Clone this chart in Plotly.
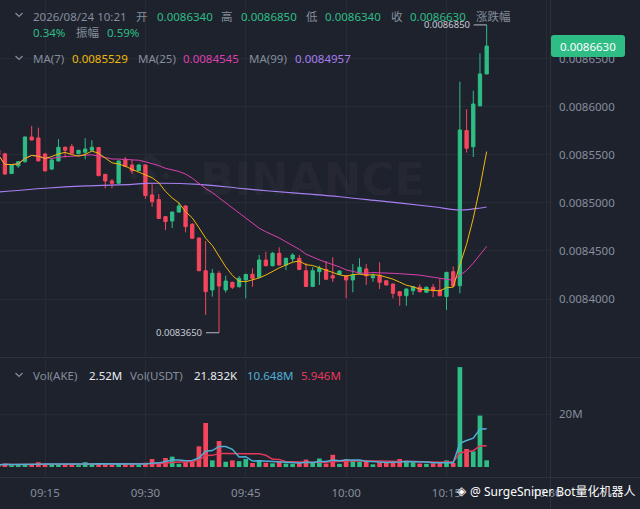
import plotly.graph_objects as go
import pandas as pd

# ---------------- data ----------------
start_time = "2026-08-24 09:08"
opens = [0.0085550, 0.0085510, 0.0085305, 0.0085385, 0.0085428, 0.0085685, 0.0085675, 0.0085508, 0.0085352, 0.0085436,
         0.0085578, 0.0085584, 0.0085511, 0.0085526, 0.0085547, 0.0085575, 0.0085297, 0.0085228, 0.0085204, 0.0085453,
         0.0085394, 0.0085335, 0.0085394, 0.0085082, 0.0085035, 0.0084857, 0.0084812, 0.0084905, 0.0084968, 0.0084778,
         0.0084635, 0.0084295, 0.0084095, 0.0084268, 0.0084095, 0.0084175, 0.0084129, 0.0084199, 0.0084258, 0.0084227,
         0.0084406, 0.0084347, 0.0084476, 0.0084354, 0.0084417, 0.0084424, 0.0084295, 0.0084131, 0.0084285, 0.0084308,
         0.0084243, 0.0084256, 0.0084243, 0.0084199, 0.0084268, 0.0084313, 0.0084222, 0.0084243, 0.0084191, 0.0084157,
         0.0084077, 0.0084035, 0.0084087, 0.0084123, 0.0084071, 0.0084123, 0.0084095, 0.0084027, 0.0084285, 0.0084139,
         0.0085753, 0.0085584, 0.0086010, 0.0086340]
highs = [0.0085570, 0.0085520, 0.0085400, 0.0085430, 0.0085690, 0.0085800, 0.0085782, 0.0085520, 0.0085467, 0.0085664,
         0.0085585, 0.0085612, 0.0085550, 0.0085672, 0.0085651, 0.0085580, 0.0085300, 0.0085248, 0.0085440, 0.0085477,
         0.0085446, 0.0085400, 0.0085400, 0.0085196, 0.0085093, 0.0084860, 0.0084910, 0.0085006, 0.0084975, 0.0084790,
         0.0084640, 0.0084604, 0.0084313, 0.0084290, 0.0084243, 0.0084180, 0.0084240, 0.0084265, 0.0084320, 0.0084458,
         0.0084493, 0.0084490, 0.0084538, 0.0084430, 0.0084476, 0.0084458, 0.0084375, 0.0084334, 0.0084347, 0.0084396,
         0.0084435, 0.0084300, 0.0084250, 0.0084365, 0.0084424, 0.0084365, 0.0084268, 0.0084383, 0.0084195, 0.0084160,
         0.0084080, 0.0084110, 0.0084135, 0.0084154, 0.0084130, 0.0084157, 0.0084209, 0.0084285, 0.0084339, 0.0086260,
         0.0085973, 0.0086166, 0.0086555, 0.0086850]
lows = [0.0085480, 0.0085290, 0.0085300, 0.0085365, 0.0085420, 0.0085650, 0.0085436, 0.0085330, 0.0085342, 0.0085430,
        0.0085470, 0.0085510, 0.0085505, 0.0085453, 0.0085540, 0.0085280, 0.0085152, 0.0085152, 0.0085200, 0.0085370,
        0.0085300, 0.0085330, 0.0085041, 0.0084960, 0.0084835, 0.0084718, 0.0084739, 0.0084900, 0.0084694, 0.0084630,
        0.0084290, 0.0083835, 0.0084025, 0.0083650, 0.0084067, 0.0084105, 0.0084120, 0.0084008, 0.0084129, 0.0084220,
        0.0084340, 0.0084340, 0.0084350, 0.0084302, 0.0084383, 0.0084300, 0.0084125, 0.0084125, 0.0084147, 0.0084200,
        0.0084178, 0.0084250, 0.0084008, 0.0084071, 0.0084260, 0.0084147, 0.0084181, 0.0084105, 0.0084140, 0.0084008,
        0.0083931, 0.0083931, 0.0084043, 0.0084070, 0.0084065, 0.0084019, 0.0084030, 0.0083887, 0.0084130, 0.0084060,
        0.0085524, 0.0085477, 0.0086000, 0.0086340]
closes = [0.0085500, 0.0085300, 0.0085395, 0.0085428, 0.0085685, 0.0085654, 0.0085436, 0.0085332, 0.0085446, 0.0085578,
          0.0085547, 0.0085516, 0.0085547, 0.0085560, 0.0085578, 0.0085283, 0.0085228, 0.0085204, 0.0085436, 0.0085378,
          0.0085332, 0.0085394, 0.0085077, 0.0085012, 0.0084838, 0.0084805, 0.0084905, 0.0084968, 0.0084753, 0.0084632,
          0.0084295, 0.0084077, 0.0084268, 0.0084136, 0.0084188, 0.0084123, 0.0084216, 0.0084256, 0.0084216, 0.0084406,
          0.0084347, 0.0084476, 0.0084354, 0.0084424, 0.0084458, 0.0084308, 0.0084131, 0.0084295, 0.0084320, 0.0084206,
          0.0084219, 0.0084292, 0.0084199, 0.0084250, 0.0084331, 0.0084243, 0.0084243, 0.0084175, 0.0084147, 0.0084060,
          0.0084035, 0.0084105, 0.0084129, 0.0084077, 0.0084123, 0.0084087, 0.0084035, 0.0084277, 0.0084136, 0.0085758,
          0.0085568, 0.0086028, 0.0086340, 0.0086630]
volumes_m = [0.8, 1.2, 0.7, 0.8, 1.0, 1.0, 1.8, 1.1, 0.8, 1.0,
             0.9, 1.0, 0.7, 1.8, 1.1, 1.3, 1.0, 0.8, 1.2, 1.0,
             0.9, 0.8, 1.6, 3.0, 1.5, 3.4, 3.9, 1.2, 1.8, 2.2,
             7.8, 16.6, 2.5, 9.8, 2.0, 2.5, 2.2, 3.0, 1.5, 2.5,
             1.6, 1.4, 2.2, 1.3, 1.2, 1.5, 2.8, 1.5, 3.2, 1.3,
             4.6, 1.2, 3.0, 2.6, 2.0, 2.2, 1.0, 1.8, 1.6, 2.0,
             3.0, 2.2, 1.8, 1.3, 1.2, 1.4, 1.5, 2.5, 1.5, 37.7,
             6.8, 5.9, 19.4, 2.52]
# MA(99) at some candle indices
ma99_idx = [0, 7, 13, 20, 22, 30, 37, 45, 51, 57, 65, 69, 71, 73]
ma99_vals = [0.0085113, 0.0085152, 0.0085176, 0.0085193, 0.0085202, 0.0085193, 0.0085145, 0.0085098,
             0.0085064, 0.0085020, 0.0084960, 0.0084926, 0.0084937, 0.0084957]
# legend values as shown in the picture
ma_legend = ["0.0085529", "0.0084545", "0.0084957"]
vol_legend = ["2.52M", "21.832K", "10.648M", "5.946M"]
header_pct = ["0.34%", "0.59%"]

x_ticks = ["2026-08-24 09:15", "2026-08-24 09:30", "2026-08-24 09:45", "2026-08-24 10:00",
           "2026-08-24 10:15", "2026-08-24 10:30"]
x_ticktext = ["09:15", "09:30", "09:45", "10:00", "10:15", "10:30"]
price_ticks = [0.00840, 0.00845, 0.00850, 0.00855, 0.00860, 0.00865]
vol_ticks = [20e6]
vol_ticktext = ["20M"]

# ---------------- styling ----------------
BG = "#1e222d"
GRID = "#272b36"
SEP = "#2e323d"
GREEN = "#2ebd85"
RED = "#f6465d"
GRAY = "#848e9c"
C_MA7 = "#f0b90b"
C_MA25 = "#dc3fae"
C_MA99 = "#a67ef0"
C_VMA5 = "#4fb0d6"
C_VMA10 = "#e5395a"
FONT = "Noto Sans, Noto Sans CJK SC, sans-serif"

W, H = 640, 509
PW, PH = 550, 477  # plot area size in pixels (margins l=0,t=0)

times = pd.date_range(start_time, periods=len(closes), freq="1min")
df = pd.DataFrame({"t": times, "o": opens, "h": highs, "l": lows, "c": closes,
                   "v": [v * 1e6 for v in volumes_m]})
df["ma7"] = df["c"].rolling(7, min_periods=1).mean()
df["ma25"] = df["c"].rolling(25, min_periods=1).mean()
df["vma5"] = df["v"].rolling(5, min_periods=1).mean()
df["vma10"] = df["v"].rolling(10, min_periods=1).mean()
vcolors = [GREEN if c >= o else RED for o, c in zip(df["o"], df["c"])]

def px(x):
    return x / PW

def py(y):
    return 1 - y / PH

fig = go.Figure()
fig.add_trace(go.Candlestick(
    x=df["t"], open=df["o"], high=df["h"], low=df["l"], close=df["c"],
    increasing=dict(line=dict(color=GREEN, width=1), fillcolor=GREEN),
    decreasing=dict(line=dict(color=RED, width=1), fillcolor=RED),
    whiskerwidth=0, xaxis="x", yaxis="y", showlegend=False, hoverinfo="skip"))
fig.add_trace(go.Scatter(x=df["t"].iloc[ma99_idx], y=ma99_vals, mode="lines",
                         line=dict(color=C_MA99, width=1.2, shape="spline"),
                         xaxis="x", yaxis="y", showlegend=False, hoverinfo="skip"))
fig.add_trace(go.Scatter(x=df["t"], y=df["ma25"], mode="lines", line=dict(color=C_MA25, width=1),
                         xaxis="x", yaxis="y", showlegend=False, hoverinfo="skip"))
fig.add_trace(go.Scatter(x=df["t"], y=df["ma7"], mode="lines", line=dict(color=C_MA7, width=1),
                         xaxis="x", yaxis="y", showlegend=False, hoverinfo="skip"))
fig.add_trace(go.Bar(x=df["t"], y=df["v"], marker=dict(color=vcolors, line=dict(width=0)),
                     xaxis="x2", yaxis="y2", showlegend=False, hoverinfo="skip"))
fig.add_trace(go.Scatter(x=df["t"], y=df["vma10"], mode="lines", line=dict(color=C_VMA10, width=1.5),
                         xaxis="x2", yaxis="y2", showlegend=False, hoverinfo="skip"))
fig.add_trace(go.Scatter(x=df["t"], y=df["vma5"], mode="lines", line=dict(color=C_VMA5, width=1.5),
                         xaxis="x2", yaxis="y2", showlegend=False, hoverinfo="skip"))

xrange = ["2026-08-24 09:08:16", "2026-08-24 10:30:28"]
main_top, main_bot = 0, 357
vol_top, vol_bot = 360, 477

fig.update_layout(
    width=W, height=H, paper_bgcolor=BG, plot_bgcolor=BG,
    margin=dict(l=0, r=W - PW, t=0, b=H - PH, autoexpand=False),
    font=dict(family=FONT, size=11.5, color=GRAY),
    bargap=0.3, hovermode=False,
    xaxis=dict(domain=[0, 1], anchor="y", range=xrange, type="date", showticklabels=False,
               showgrid=True, gridcolor=GRID, gridwidth=1, tickvals=x_ticks, zeroline=False,
               rangeslider=dict(visible=False), fixedrange=True),
    yaxis=dict(domain=[py(main_bot), py(main_top)], anchor="x", side="right",
               range=[0.0083398, 0.0087109], tickvals=price_ticks, tickformat=".7f",
               showgrid=True, gridcolor=GRID, zeroline=False, ticks="", ticklabelstandoff=8,
               tickfont=dict(size=11.5, color=GRAY)),
    xaxis2=dict(domain=[0, 1], anchor="y2", matches="x", type="date", tickvals=x_ticks,
                ticktext=x_ticktext, showgrid=True, gridcolor=GRID, zeroline=False, ticks="",
                ticklabelstandoff=7, tickfont=dict(size=11.5, color=GRAY),
                rangeslider=dict(visible=False)),
    yaxis2=dict(domain=[py(vol_bot), py(vol_top)], anchor="x2", side="right",
                range=[-3.774e6, 40.38e6], tickvals=vol_ticks, ticktext=vol_ticktext,
                showgrid=True, gridcolor=GRID, zeroline=False, ticks="", ticklabelstandoff=8,
                tickfont=dict(size=11.5, color=GRAY)),
)

shapes = []
annotations = []

# separators
for yy in (357.5, 477.5):
    shapes.append(dict(type="line", xref="paper", yref="paper", x0=0, x1=px(W), y0=py(yy), y1=py(yy),
                       line=dict(color=SEP, width=1), layer="above"))
shapes.append(dict(type="line", xref="paper", yref="paper", x0=px(550.5), x1=px(550.5), y0=py(H), y1=py(0),
                   line=dict(color=SEP, width=1), layer="above"))

# watermark logo (faint)
cx, cy = 150, 176
def poly(points):
    return "M " + " L ".join(f"{px(a):.5f},{py(b):.5f}" for a, b in points) + " Z"
wm = "rgba(255,255,255,0.035)"
for pts in [
    [(cx, cy - 7), (cx + 7, cy), (cx, cy + 7), (cx - 7, cy)],
    [(cx - 16, cy - 4), (cx - 12, cy), (cx - 16, cy + 4), (cx - 20, cy)],
    [(cx + 16, cy - 4), (cx + 20, cy), (cx + 16, cy + 4), (cx + 12, cy)],
    [(cx, cy - 24), (cx + 12, cy - 12), (cx + 8, cy - 8), (cx, cy - 16), (cx - 8, cy - 8), (cx - 12, cy - 12)],
    [(cx, cy + 24), (cx + 12, cy + 12), (cx + 8, cy + 8), (cx, cy + 16), (cx - 8, cy + 8), (cx - 12, cy + 12)],
]:
    shapes.append(dict(type="path", xref="paper", yref="paper", path=poly(pts), fillcolor=wm,
                       line=dict(width=0), layer="below"))
annotations.append(dict(xref="paper", yref="paper", x=px(312), y=py(179), text="<b>BINANCE</b>",
                        showarrow=False, xanchor="center", yanchor="middle",
                        font=dict(family="DejaVu Sans", size=45, color=wm)))

# chevrons
for yc in (15, 58, 375):
    shapes.append(dict(type="path", xref="paper", yref="paper",
                       path=f"M {px(15.5)},{py(yc-2)} L {px(19)},{py(yc+1.5)} L {px(22.5)},{py(yc-2)}",
                       line=dict(color=GRAY, width=1.2), layer="above"))

def txt(x, y, s, color, size=11.5, anchor="left"):
    annotations.append(dict(xref="paper", yref="paper", x=px(x), y=py(y), text=s, showarrow=False,
                            xanchor=anchor, yanchor="middle", font=dict(size=size, color=color, family=FONT)))

fmt = lambda v: f"{v:.7f}"
last = df.iloc[-1]

# header line 1
txt(31, 16, "2026/08/24 10:21", GRAY)
txt(134, 16, "开", GRAY)
txt(155, 16, fmt(last["o"]), GREEN)
txt(219, 16, "高", GRAY)
txt(239, 16, fmt(last["h"]), GREEN)
txt(304, 16, "低", GRAY)
txt(323, 16, fmt(last["l"]), GREEN)
txt(389, 16, "收", GRAY)
txt(408, 16, fmt(last["c"]), GREEN)
txt(474, 16, "涨跌幅", GRAY)
# header line 2
txt(31, 33, header_pct[0], GREEN)
txt(74, 33, "振幅", GRAY)
txt(105, 33, header_pct[1], GREEN)
# MA line
txt(31, 58, "MA(7)", GRAY)
txt(70, 58, ma_legend[0], C_MA7)
txt(136, 58, "MA(25)", GRAY)
txt(181, 58, ma_legend[1], C_MA25)
txt(247, 58, "MA(99)", GRAY)
txt(293, 58, ma_legend[2], C_MA99)
# volume legend
txt(31, 375, "Vol(AKE)", GRAY)
txt(87, 375, vol_legend[0], "#eaecef")
txt(128, 375, "Vol(USDT)", GRAY)
txt(192, 375, vol_legend[1], "#eaecef")
txt(245, 375, vol_legend[2], C_VMA5)
txt(299, 375, vol_legend[3], C_VMA10)

# current price badge
bx0, bx1, by0, by1, r = 551, 625, 35, 57, 3
path = (f"M {px(bx0+r)},{py(by0)} L {px(bx1-r)},{py(by0)} Q {px(bx1)},{py(by0)} {px(bx1)},{py(by0+r)} "
        f"L {px(bx1)},{py(by1-r)} Q {px(bx1)},{py(by1)} {px(bx1-r)},{py(by1)} "
        f"L {px(bx0+r)},{py(by1)} Q {px(bx0)},{py(by1)} {px(bx0)},{py(by1-r)} "
        f"L {px(bx0)},{py(by0+r)} Q {px(bx0)},{py(by0)} {px(bx0+r)},{py(by0)} Z")
shapes.append(dict(type="path", xref="paper", yref="paper", path=path, fillcolor=GREEN,
                   line=dict(width=0), layer="above"))
txt((bx0 + bx1) / 2, (by0 + by1) / 2, fmt(last["c"]), "#ffffff", anchor="center")

# high / low markers
hi_i = int(df["h"].idxmax())
lo_i = int(df["l"].idxmin())
for i, val in ((hi_i, df["h"].iloc[hi_i]), (lo_i, df["l"].iloc[lo_i])):
    shapes.append(dict(type="line", xref="x", yref="y", xsizemode="pixel", xanchor=df["t"].iloc[i],
                       x0=-13, x1=0, y0=val, y1=val, line=dict(color="#b7bdc6", width=1)))
    annotations.append(dict(xref="x", yref="y", x=df["t"].iloc[i], y=val, text=fmt(val), showarrow=False,
                            xanchor="right", yanchor="middle", xshift=-15,
                            font=dict(size=9.5, color="#c7ccd4", family=FONT)))

# bottom watermark
annotations.append(dict(xref="paper", yref="paper", x=px(455), y=py(491), text="◈", showarrow=False,
                        xanchor="left", yanchor="middle", font=dict(size=12, color="#ffffff", family="DejaVu Sans")))
annotations.append(dict(xref="paper", yref="paper", x=px(468), y=py(491), text="@ SurgeSniper Bot量化机器人",
                        showarrow=False, xanchor="left", yanchor="middle",
                        font=dict(size=12, color="#ffffff", family=FONT)))

fig.update_layout(shapes=shapes, annotations=annotations)
fig.write_html("out.html", config={"displayModeBar": False, "staticPlot": True},
               post_script="document.body.style.margin='0';document.body.style.overflow='hidden';")
